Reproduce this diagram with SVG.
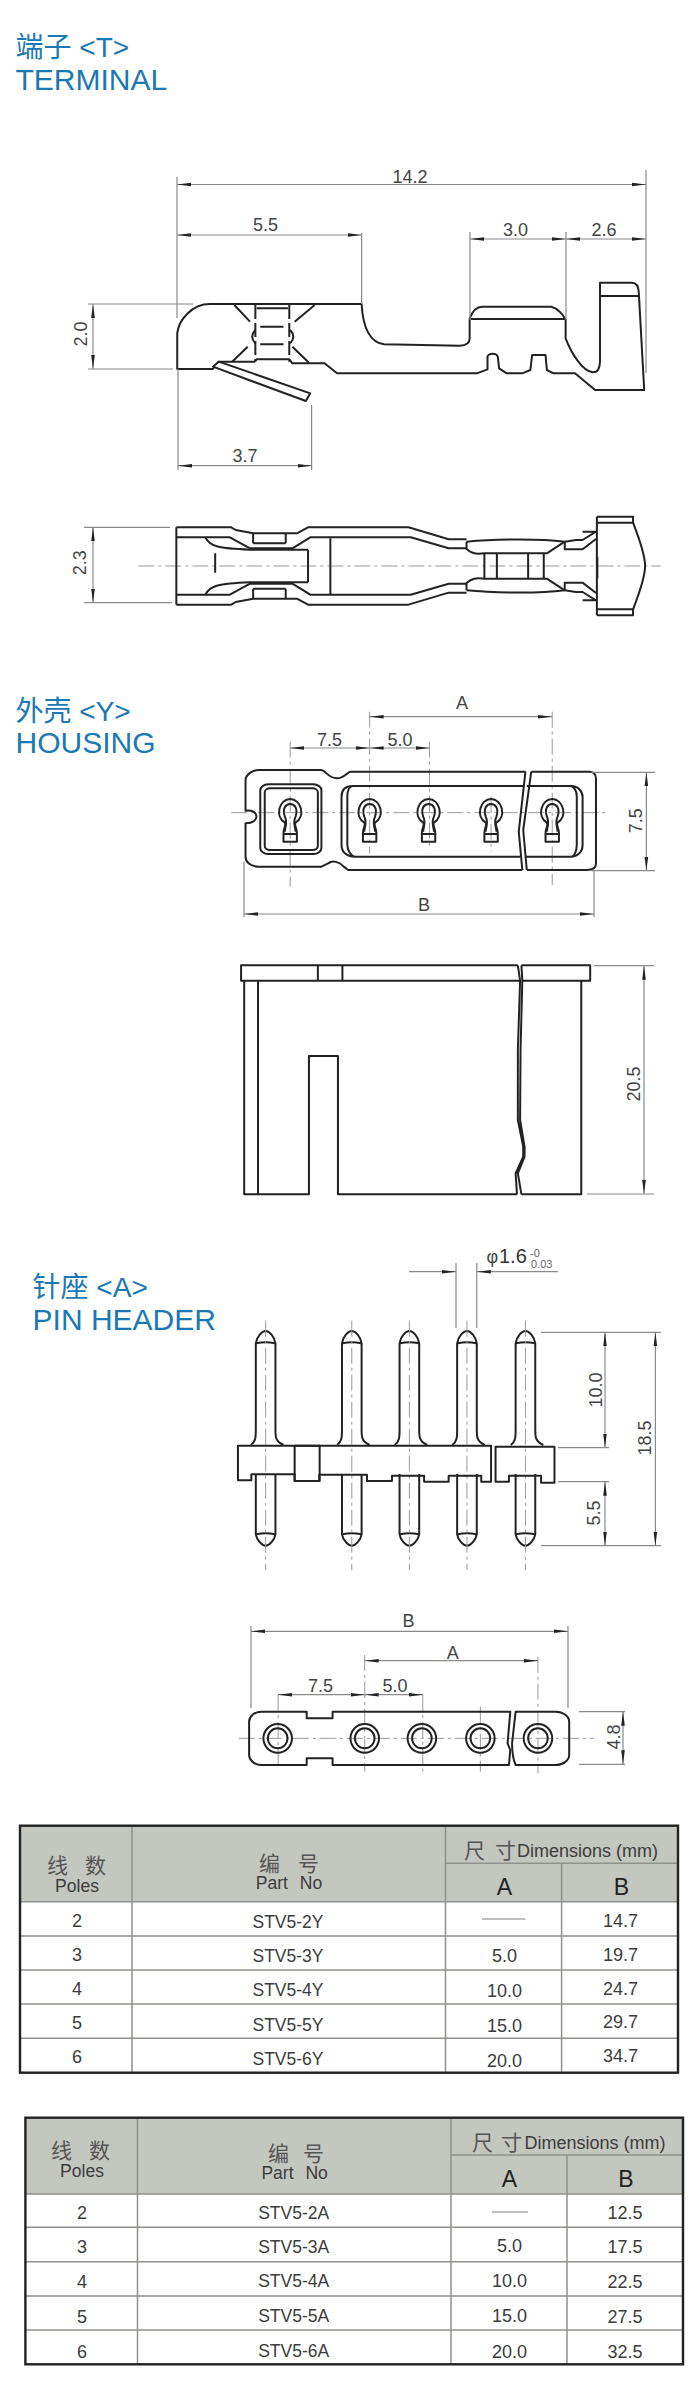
<svg xmlns="http://www.w3.org/2000/svg" xmlns:xlink="http://www.w3.org/1999/xlink" width="700" height="2388" viewBox="0 0 700 2388">
<style>
text{font-family:"Liberation Sans","Noto Sans CJK SC",sans-serif}
.h{fill:#1a78b4;font-size:30px}
.c{fill:#1a78b4;font-size:28px}
.d{fill:#444;font-size:18px;text-anchor:middle}
.p path,.p rect,.p ellipse,.p polygon,.p line{fill:none;stroke:#222;stroke-width:2;vector-effect:non-scaling-stroke;stroke-linejoin:round}
.p .w{fill:#fff}
.p .cl{stroke:#999;stroke-width:1;stroke-dasharray:16 4 3 4}
.dl{stroke:#8a8a8a;stroke-width:1.2;fill:none}
.ar{marker-start:url(#a);marker-end:url(#a)}
.ar1{marker-end:url(#a)}
.t{fill:#3c3c3c;font-size:17.5px;text-anchor:middle}
.n{fill:#3c3c3c;font-size:18px;text-anchor:middle}
.cj{fill:#555;font-size:21px}
.l{stroke:#8f918c;stroke-width:1.5}
.o{fill:none;stroke:#222;stroke-width:2.4}
.hf{fill:#c4c6c0}
</style>
<defs>
<marker id="a" viewBox="0 0 14 6" refX="14" refY="3" markerWidth="14" markerHeight="6" markerUnits="userSpaceOnUse" orient="auto-start-reverse"><path d="M0 1.2L14 3L0 4.8Z" fill="#222"/></marker>
<g id="key" class="p"><path d="M-15 545V518C-15 505-8 495-12 488C-35 470-25 417 0 417C25 417 35 470 12 488C8 495 15 505 15 518V545Z"/><path d="M-15 522H15"/><path d="M-12 515C-12 500-5 490-12 470C-18 445-10 432 0 432C10 432 18 445 12 470C5 490 12 500 12 515"/></g>
<g id="pin" class="p"><path d="M-33 735C-22 725-22 710-22 690V430C-20 410-8 393 0 393C8 393 20 410 22 430V690C22 710 22 725 40 735"/><path d="M-21 430Q0 424 21 430"/><path d="M-22 822V1003C-20 1020-8 1037 0 1037C8 1037 20 1020 22 1003V822"/><path d="M-21 1003Q0 997 21 1003"/><path class="cl" d="M0 362V1110"/></g>
<g id="hole" class="p"><ellipse cx="0" cy="415" rx="32" ry="43"/><ellipse cx="0" cy="415" rx="22" ry="30"/></g>
<g id="half" class="p"><path d="M395 262H518L528 270L567 280H665L690 262H915L1005 298H1045"/><path d="M395 292H515L560 325H655L695 292H920L1005 325H1045"/><path d="M460 292C470 320 490 325 560 329H690"/><path d="M567 280V310M640 280V310M567 310H640"/><path d="M1045 305C1100 298 1200 294 1265 305V328H1305L1335 297"/><path d="M1265 305L1290 300H1305L1335 275H1305"/><path d="M1337 230H1418V248H1337M1418 248C1430 290 1445 340 1445 378"/><path d="M1045 305V327C1060 345 1070 341 1085 340H1225L1265 305"/></g>
</defs>
<rect width="700" height="2388" fill="#fff"/>

<g id="titles">
<text class="c" x="15.5" y="57">端子 &lt;T&gt;</text><text class="h" x="15.5" y="90">TERMINAL</text>
<text class="c" x="15.5" y="720.7">外壳 &lt;Y&gt;</text><text class="h" x="15.5" y="752.7">HOUSING</text>
<text class="c" x="32.6" y="1297.3">针座 &lt;A&gt;</text><text class="h" x="32.6" y="1330">PIN HEADER</text>
</g>

<g id="terminal-side" class="p" transform="scale(.44643 .33333)">
<path d="M397 1107V1000C400 960 430 912 470 912H810C812 960 820 1025 860 1033L1030 1037C1045 1037 1052 1030 1052 1015V955C1058 935 1068 920 1080 920H1235C1250 925 1262 945 1267 960V1015C1280 1060 1305 1115 1328 1117C1340 1117 1343 1105 1344 1085V848H1415C1425 848 1431 860 1431 880L1443 1170H1333L1288 1120H1240L1225 1110L1222 1065H1192L1188 1110L1170 1120H1135L1118 1105L1115 1070C1112 1058 1095 1058 1092 1070V1108L1068 1120H755L727 1090H655L648 1078H575L570 1085H490L477 1107Z"/>
<path d="M1055 957H1265M1345 888H1431M525 915L560 965M705 915L660 965M555 1040L520 1085M655 1040L692 1088M575 925H645"/>
<path d="M572 915V1085M648 915V1085" stroke-dasharray="14 4"/>
<path d="M583 980H635M583 1033H635M572 990Q558 1010 572 1030M650 990Q664 1010 650 1030"/>
<polygon class="w" points="490,1085 695,1180 685,1203 477,1100"/>
</g>

<g id="terminal-top" class="p" transform="translate(0 440) scale(.44643 .33333)">
<path class="cl" d="M310 378H1480"/>
<use xlink:href="#half" href="#half"/>
<use xlink:href="#half" href="#half" transform="matrix(1 0 0 -1 0 756)"/>
<path d="M395 262V494M690 329V427M740 295V462M482 340V398M1338 350V415M1085 340V416M1113 340V416M1183 340V416M1218 340V416M1337 230V526"/>
</g>

<g id="housing-end" class="p" transform="translate(0 660) scale(.44643 .33333)">
<path class="cl" d="M518 458H1362"/>
<path class="cl" d="M650 245V680M828 155V580M962 245V570M1100 410V575M1237 155V675"/>
<path d="M1177 335H785C775 340 770 355 755 355C735 355 730 332 720 330H580C565 330 550 345 550 360V452C580 445 585 490 550 490V590C550 605 560 620 580 620H720L735 610C745 600 760 605 770 620L780 630H1170"/>
<path d="M1190 335H1320C1330 335 1335 345 1335 355V610C1335 625 1325 630 1315 630H1180"/>
<path d="M1177 335L1162 515L1170 630M1190 335L1172 510L1180 630"/>
<rect x="583" y="373" width="137" height="209" rx="18"/><rect x="593" y="385" width="119" height="185" rx="12"/>
<path d="M1172 378H790C770 378 765 395 765 410V555C765 575 775 590 795 590H1165M790 378C780 380 778 395 778 410V555C778 575 790 590 795 590"/>
<path d="M1180 378H1280C1295 378 1305 395 1305 410V555C1305 575 1295 588 1280 590H1178M1280 378C1290 385 1292 395 1292 410V555C1292 575 1285 590 1280 590"/>
<use xlink:href="#key" href="#key" x="650"/><use xlink:href="#key" href="#key" x="828"/><use xlink:href="#key" href="#key" x="960"/><use xlink:href="#key" href="#key" x="1100"/><use xlink:href="#key" href="#key" x="1237"/>
</g>

<g id="housing-side" class="p" transform="translate(0 950) scale(.44643 .33333)">
<path d="M1160 46H540V92H1165M1168 46H1322V92H1170M712 46V92M767 46V92"/>
<path d="M547 92V733H692V318H757V733H1158M1168 733H1302V92M578 92V733"/>
<path d="M1160 46L1165 92L1160 300V510L1172 590V620L1155 670L1158 733M1168 46L1170 92L1166 300L1165 510L1175 590V620L1160 670L1168 733"/>
</g>

<g id="pin-header-side" class="p" transform="translate(0 1200) scale(.44643 .33333)">
<use xlink:href="#pin" href="#pin" x="595"/><use xlink:href="#pin" href="#pin" x="788"/><use xlink:href="#pin" href="#pin" x="917"/><use xlink:href="#pin" href="#pin" x="1046"/><use xlink:href="#pin" href="#pin" x="1177"/>
<path d="M533 737H1100V845H1078V827H1005V845H950V827H878V843H822V824H715V843H660V823H563V841H533Z"/>
<path d="M1110 740H1242V848H1212V827H1140V845H1110Z"/>
<rect x="660" y="737" width="56" height="106"/>
</g>

<g id="pin-header-end" class="p" transform="translate(0 1600) scale(.44643 .33333)">
<path class="cl" d="M535 415H1330"/>
<path class="cl" d="M623 285V495M817 165V515M947 285V515M1076 320V515M1205 170V520"/>
<path d="M1143 335H745V355H687V335H585C570 335 558 350 558 365V465C558 480 570 495 585 495H687V475H745V495H1140L1143 450L1137 430Z"/>
<path d="M1155 335H1245C1262 335 1275 350 1275 365V465C1275 480 1262 495 1245 495H1155C1150 480 1147 450 1147 430Z"/>
<use xlink:href="#hole" href="#hole" x="622"/><use xlink:href="#hole" href="#hole" x="817"/><use xlink:href="#hole" href="#hole" x="945"/><use xlink:href="#hole" href="#hole" x="1076"/><use xlink:href="#hole" href="#hole" x="1205"/>
</g>

<g id="connectors">
<g class="dl">
<path d="M177 177V318M646 170V373M361.6 233V304M470 232V320M566 232V320M88 304H193M88 369H173M178 369V470M311.6 405V470"/>
<path d="M84 527.3H170M84 602.7H172"/>
<path d="M244 861.7V917M594 870V917M591.5 772.3H655M591.5 870.7H655"/>
<path d="M594 965.7H654M587 1194H654"/>
<path d="M456 1263V1328M476.8 1263V1328M541 1332.3H661M558 1447.7H609M558 1481.7H609M541 1545.7H661"/>
<path d="M251 1626V1708M568 1626V1708M579 1711.7H625M579 1764.3H625"/>
</g>
<g class="dl">
<path class="ar" d="M177 184.5H646"/><path class="ar" d="M177 235H361.6"/><path class="ar" d="M470 239H566"/><path class="ar" d="M566 239H646"/><path class="ar" d="M93 304V369"/><path class="ar" d="M178 465.7H311.6"/>
<path class="ar" d="M93 527.3V602.7"/>
<path class="ar" d="M369.6 716.7H552"/><path class="ar" d="M290 748H369.6"/><path class="ar" d="M369.6 748H429.5"/><path class="ar" d="M244 914H594"/><path class="ar" d="M646.4 772.3V870.7"/>
<path class="ar" d="M644 965.7V1194"/>
<path class="ar1" d="M409 1271.7H456"/><path class="ar1" d="M558 1271.7H476.8"/>
<path class="ar" d="M605 1332.3V1447.7"/><path class="ar" d="M605 1481.7V1545.7"/><path class="ar" d="M655.4 1332.3V1545.7"/>
<path class="ar" d="M251 1631.3H568"/><path class="ar" d="M364.7 1660.7H538"/><path class="ar" d="M278 1694.7H364.7"/><path class="ar" d="M364.7 1694.7H422.8"/><path class="ar" d="M623 1711.7V1764.3"/>
</g>
</g>

<g id="dimension-labels">
<text class="d" x="410" y="183">14.2</text><text class="d" x="265.6" y="230.7">5.5</text><text class="d" x="515.6" y="235.7">3.0</text><text class="d" x="604" y="235.7">2.6</text>
<text class="d" transform="translate(87 334) rotate(-90)">2.0</text>
<text class="d" x="245" y="461.7">3.7</text>
<text class="d" transform="translate(85.7 562.7) rotate(-90)">2.3</text>
<text class="d" x="462" y="709">A</text><text class="d" x="329.5" y="745.7">7.5</text><text class="d" x="400" y="745.7">5.0</text><text class="d" x="424" y="910.7">B</text>
<text class="d" transform="translate(642 820.7) rotate(-90)">7.5</text>
<text class="d" transform="translate(640 1084) rotate(-90)">20.5</text>
<text x="486.6" y="1263" fill="#444" font-size="18">φ</text><text x="499" y="1263" fill="#333" font-size="20">1.6</text>
<text x="530" y="1257" fill="#666" font-size="11">-0</text><text x="531" y="1268" fill="#666" font-size="11">0.03</text>
<text class="d" transform="translate(602 1390) rotate(-90)">10.0</text><text class="d" transform="translate(651 1438) rotate(-90)">18.5</text><text class="d" transform="translate(600 1513) rotate(-90)">5.5</text>
<text class="d" x="408.5" y="1626.7">B</text><text class="d" x="452.7" y="1659">A</text><text class="d" x="320.5" y="1691.7">7.5</text><text class="d" x="395" y="1691.7">5.0</text>
<text class="d" transform="translate(619.6 1737) rotate(-90)">4.8</text>
</g>

<g id="table-housing">
<rect x="20" y="1825.7" width="658" height="76" class="hf"/>
<path class="l" d="M445.5 1863.3H678M20 1901.7H678M20 1936H678M20 1970H678M20 2004H678M20 2038.3H678M132 1825.7V2072.7M445.5 1825.7V2072.7M561.6 1863.3V2072.7"/>
<rect x="20" y="1825.7" width="658" height="247" class="o"/>
<path d="M482 1919H525.5" stroke="#aaa" stroke-width="1.5"/>
<text class="cj" x="47" y="1872.7">线</text><text class="cj" x="85" y="1872.7">数</text><text class="t" x="77" y="1891.7">Poles</text>
<text class="cj" x="259" y="1870.7">编</text><text class="cj" x="298" y="1870.7">号</text><text class="t" x="289" y="1889" word-spacing="7">Part No</text>
<text class="cj" x="464" y="1858">尺</text><text class="cj" x="495" y="1858">寸</text><text x="517" y="1857" fill="#3c3c3c" font-size="18">Dimensions (mm)</text>
<text x="504.5" y="1895" fill="#222" font-size="23" text-anchor="middle">A</text><text x="621.4" y="1895" fill="#222" font-size="23" text-anchor="middle">B</text>
<text class="n" x="77" y="1927.3">2</text><text class="n" x="77" y="1961">3</text><text class="n" x="77" y="1995">4</text><text class="n" x="77" y="2029.3">5</text><text class="n" x="77" y="2063.3">6</text>
<text class="t" x="288" y="1927.7">STV5-2Y</text><text class="t" x="288" y="1961.7">STV5-3Y</text><text class="t" x="288" y="1996">STV5-4Y</text><text class="t" x="288" y="2030.7">STV5-5Y</text><text class="t" x="288" y="2065">STV5-6Y</text>
<text class="n" x="504.5" y="1962.3">5.0</text><text class="n" x="504.5" y="1997.3">10.0</text><text class="n" x="504.5" y="2032.3">15.0</text><text class="n" x="504.5" y="2067.3">20.0</text>
<text class="n" x="620.5" y="1927.3">14.7</text><text class="n" x="620.5" y="1961">19.7</text><text class="n" x="620.5" y="1995">24.7</text><text class="n" x="620.5" y="2028.3">29.7</text><text class="n" x="620.5" y="2062.3">34.7</text>
</g>

<g id="table-header">
<rect x="25.4" y="2117.7" width="657.6" height="76.3" class="hf"/>
<path class="l" d="M451 2155H683M25.4 2194H683M25.4 2227.3H683M25.4 2261.7H683M25.4 2296H683M25.4 2330H683M137.5 2117.7V2364.3M451 2117.7V2364.3M567 2155V2364.3"/>
<rect x="25.4" y="2117.7" width="657.6" height="246.6" class="o"/>
<path d="M492 2212H528" stroke="#aaa" stroke-width="1.5"/>
<text class="cj" x="51" y="2158.3">线</text><text class="cj" x="89" y="2158.3">数</text><text class="t" x="82" y="2177.3">Poles</text>
<text class="cj" x="268" y="2160.7">编</text><text class="cj" x="303" y="2160.7">号</text><text class="t" x="294.6" y="2179.3" word-spacing="7">Part No</text>
<text class="cj" x="472" y="2150">尺</text><text class="cj" x="501" y="2150">寸</text><text x="524.5" y="2149" fill="#3c3c3c" font-size="18">Dimensions (mm)</text>
<text x="509.4" y="2186.7" fill="#222" font-size="23" text-anchor="middle">A</text><text x="626" y="2186.7" fill="#222" font-size="23" text-anchor="middle">B</text>
<text class="n" x="82" y="2218.7">2</text><text class="n" x="82" y="2253.3">3</text><text class="n" x="82" y="2287.7">4</text><text class="n" x="82" y="2322.7">5</text><text class="n" x="82" y="2357.7">6</text>
<text class="t" x="293.7" y="2218.7">STV5-2A</text><text class="t" x="293.7" y="2253.3">STV5-3A</text><text class="t" x="293.7" y="2287.3">STV5-4A</text><text class="t" x="293.7" y="2321.7">STV5-5A</text><text class="t" x="293.7" y="2356.7">STV5-6A</text>
<text class="n" x="509.4" y="2251.7">5.0</text><text class="n" x="509.4" y="2287.3">10.0</text><text class="n" x="509.4" y="2322.3">15.0</text><text class="n" x="509.4" y="2357.7">20.0</text>
<text class="n" x="625" y="2219">12.5</text><text class="n" x="625" y="2253.3">17.5</text><text class="n" x="625" y="2288">22.5</text><text class="n" x="625" y="2322.7">27.5</text><text class="n" x="625" y="2357.7">32.5</text>
</g>
</svg>
